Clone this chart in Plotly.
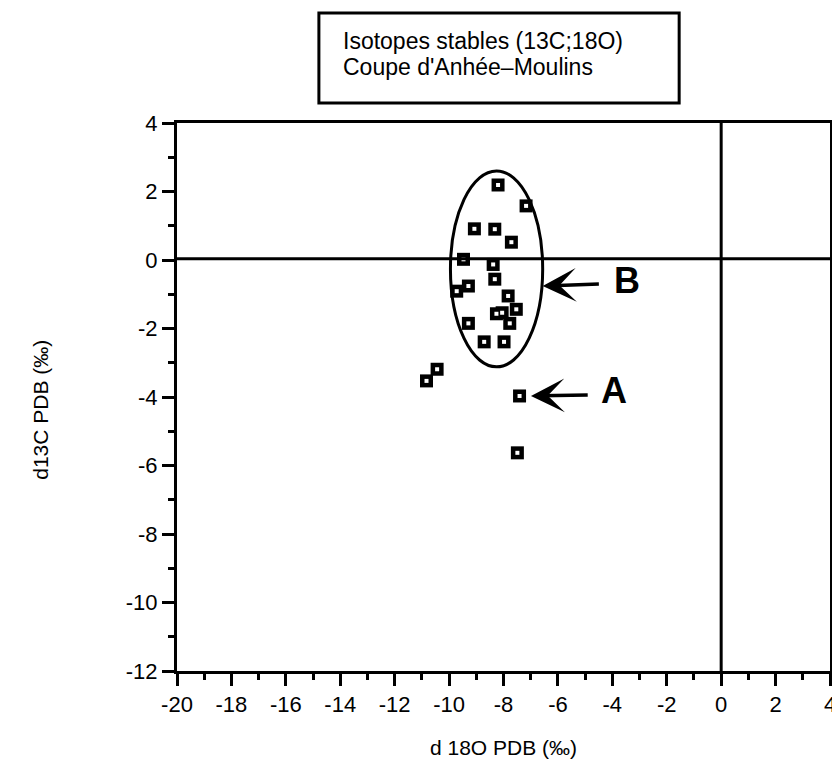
import plotly.graph_objects as go

# data
d18o = [-8.20, -7.17, -9.07, -8.32, -7.71, -9.47, -8.38, -8.32, -9.72, -9.29, -7.83,
        -8.26, -8.05, -7.53, -7.77, -9.29, -8.71, -7.98, -10.44, -10.83, -7.41, -7.49]
d13c = [2.19, 1.58, 0.91, 0.90, 0.52, 0.02, -0.13, -0.56, -0.91, -0.76, -1.05,
        -1.57, -1.54, -1.44, -1.85, -1.85, -2.39, -2.39, -3.19, -3.53, -3.97, -5.63]

x_tickvals = [-20, -18, -16, -14, -12, -10, -8, -6, -4, -2, 0, 2, 4]
x_ticktext = ["-20", "-18", "-16", "-14", "-12", "-10", "-8", "-6", "-4", "-2", "0", "2", "4"]
y_tickvals = [4, 2, 0, -2, -4, -6, -8, -10, -12]
y_ticktext = ["4", "2", "0", "-2", "-4", "-6", "-8", "-10", "-12"]

title_lines = ["Isotopes stables (13C;18O)", "Coupe d'Anhée–Moulins"]

FONT = "Liberation Sans, Arial, Helvetica, sans-serif"

fig = go.Figure()
# black square marks
fig.add_trace(go.Scatter(
    x=d18o, y=d13c, mode="markers",
    marker=dict(symbol="square", size=13, color="black", line=dict(width=0)),
    showlegend=False, cliponaxis=False, hoverinfo="skip",
))
# small white hole in each mark
fig.add_trace(go.Scatter(
    x=d18o, y=d13c, mode="markers",
    marker=dict(symbol="square", size=4, color="white", line=dict(width=0)),
    showlegend=False, cliponaxis=False,
))

axis_common = dict(
    showline=True, linecolor="black", linewidth=3, mirror=True,
    ticks="outside", ticklen=12, tickwidth=3, tickcolor="black",
    showgrid=False, zeroline=False,
    tickfont=dict(family=FONT, size=22, color="black"),
    minor=dict(ticks="outside", ticklen=6, tickwidth=3, tickcolor="black",
               dtick=1, tick0=0),
)

fig.update_xaxes(range=[-20, 4], tickmode="array", tickvals=x_tickvals,
                 ticktext=x_ticktext, **axis_common)
fig.update_yaxes(range=[-12, 4], tickmode="array", tickvals=y_tickvals,
                 ticktext=y_ticktext, **axis_common)

shapes = [
    dict(type="line", xref="x", yref="y", x0=-20, x1=4, y0=0.04, y1=0.04,
         line=dict(color="black", width=3)),
    dict(type="line", xref="x", yref="y", x0=0, x1=0, y0=-12, y1=4,
         line=dict(color="black", width=3)),
    dict(type="circle", xref="x", yref="y", x0=-9.95, x1=-6.56, y0=-3.12, y1=2.60,
         line=dict(color="black", width=3)),
    dict(type="rect", xref="paper", yref="paper", x0=0.2173, x1=0.769,
         y0=1.0365, y1=1.2007, line=dict(color="black", width=3)),
]

annotations = [
    dict(x=-6.56, y=-0.76, ax=-4.44, ay=-0.70, xref="x", yref="y", axref="x", ayref="y",
         text="", showarrow=True, arrowhead=3, arrowsize=1.6, arrowwidth=3.5,
         arrowcolor="black", standoff=0),
    dict(x=-6.99, y=-3.97, ax=-4.85, ay=-3.94, xref="x", yref="y", axref="x", ayref="y",
         text="", showarrow=True, arrowhead=3, arrowsize=1.6, arrowwidth=3.5,
         arrowcolor="black", standoff=0),
    dict(x=-3.46, y=-0.61, xref="x", yref="y", text="<b>B</b>", showarrow=False,
         font=dict(family=FONT, size=36, color="black")),
    dict(x=-3.93, y=-3.82, xref="x", yref="y", text="<b>A</b>", showarrow=False,
         font=dict(family=FONT, size=36, color="black")),
    dict(x=0.2508, y=1.1496, xref="paper", yref="paper", xanchor="left", yanchor="middle",
         showarrow=False, text=title_lines[0],
         font=dict(family=FONT, size=23, color="black")),
    dict(x=0.2508, y=1.1022, xref="paper", yref="paper", xanchor="left", yanchor="middle",
         showarrow=False, text=title_lines[1],
         font=dict(family=FONT, size=23, color="black")),
    dict(x=0.5, y=-0.164, xref="paper", yref="paper", showarrow=False,
         text="d 18O PDB (‰)", font=dict(family=FONT, size=21, color="black")),
    dict(x=-0.2295, y=0.476, xref="paper", yref="paper", showarrow=False, textangle=-90,
         text="d13C PDB (‰)", font=dict(family=FONT, size=21, color="black")),
]

fig.update_layout(
    width=840, height=777,
    margin=dict(l=169, r=13, t=115, b=114),
    paper_bgcolor="white", plot_bgcolor="white",
    shapes=shapes, annotations=annotations,
    font=dict(family=FONT, color="black"),
)

fig.write_html("out.html")
